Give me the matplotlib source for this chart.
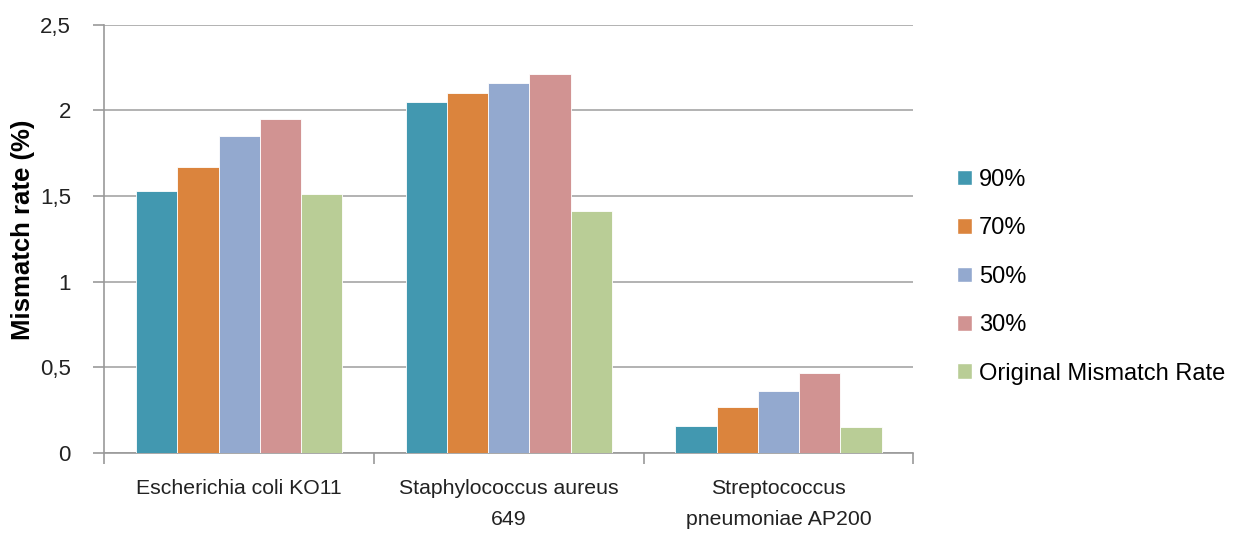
import numpy as np
import matplotlib.pyplot as plt
from matplotlib.patches import Patch
from matplotlib.ticker import FuncFormatter

plt.rcParams['font.family'] = ['Liberation Sans', 'DejaVu Sans']

categories = ['Escherichia coli KO11', 'Staphylococcus aureus\n649', 'Streptococcus\npneumoniae AP200']
series = ['90%', '70%', '50%', '30%', 'Original Mismatch Rate']
vals_90 = [1.53, 2.05, 0.16]
vals_70 = [1.67, 2.10, 0.266]
vals_50 = [1.85, 2.16, 0.365]
vals_30 = [1.95, 2.21, 0.47]
vals_orig = [1.51, 1.415, 0.152]
colors = ['#4298B0', '#DB843D', '#93A9CF', '#D19392', '#B9CD96']

data = [vals_90, vals_70, vals_50, vals_30, vals_orig]

fig = plt.figure(figsize=(12.48, 5.33), dpi=100)
ax = fig.add_axes([0.0836, 0.15, 0.6482, 0.8037])

x = np.arange(len(categories))
w = 0.153
for i, (vals, c) in enumerate(zip(data, colors)):
    ax.bar(x + (i - 2) * w, vals, w, color=c, edgecolor='white', linewidth=0.6, zorder=3)

ax.set_xlim(-0.5, 2.5)
ax.set_ylim(0, 2.5)
ax.set_yticks(np.arange(0, 2.51, 0.5))
ax.yaxis.set_major_formatter(FuncFormatter(lambda v, p: ('%g' % v).replace('.', ',')))
ax.grid(axis='y', color='#A6A6A6', linewidth=1.2, zorder=0)
ax.set_xticks(x)
ax.set_xticklabels(categories, fontsize=15.3, color='#222222', linespacing=1.75)
ax.set_xticks([-0.5, 0.5, 1.5, 2.5], minor=True)
ax.tick_params(axis='x', which='major', length=0, pad=19)
ax.tick_params(axis='x', which='minor', length=8, color='#999999', width=1.2)
ax.tick_params(axis='y', length=8, color='#999999', width=1.2, labelsize=16, labelcolor='#222222', pad=16)

for s in ['top', 'right']:
    ax.spines[s].set_visible(False)
for s in ['left', 'bottom']:
    ax.spines[s].set_color('#999999')
    ax.spines[s].set_linewidth(1.2)

ax.set_ylabel('Mismatch rate (%)', fontsize=18.5, fontweight='bold')
ax.yaxis.set_label_coords(-0.086, 0.521)

handles = [Patch(facecolor=c, edgecolor='white', label=s) for s, c in zip(series, colors)]
fig.legend(handles=handles, loc='center left', bbox_to_anchor=(0.7668, 0.481), frameon=False,
           borderpad=0, borderaxespad=0, fontsize=17, handlelength=0.64, handleheight=0.64,
           handletextpad=0.3, labelspacing=1.12)

fig.savefig('out.png', dpi=100)
